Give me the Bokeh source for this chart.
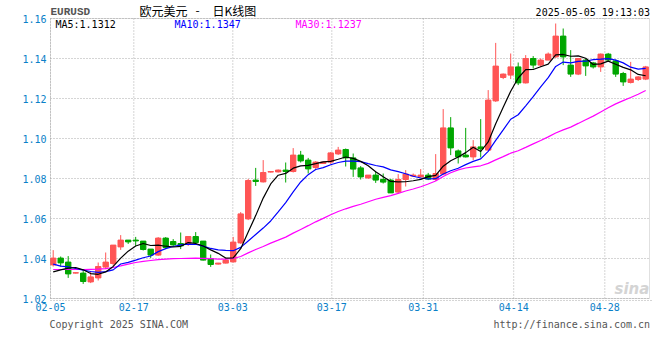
import pandas as pd
from bokeh.plotting import figure
from bokeh.models import (Range1d, FixedTicker, PrintfTickFormatter, Label, ColumnDataSource,
                          LinearAxis, BoxAnnotation)
from bokeh.embed import file_html
from bokeh.resources import INLINE

# ---------------- data ----------------
opens = [1.0368, 1.0402, 1.0382, 1.0327, 1.0327, 1.0283, 1.0303, 1.0357, 1.0375, 1.0458,
         1.0492, 1.0492, 1.0487, 1.0447, 1.0417, 1.0502, 1.0485, 1.0475, 1.0475, 1.0510,
         1.0487, 1.0400, 1.0372, 1.0377, 1.0383, 1.0478, 1.0598, 1.0792, 1.0783, 1.0832,
         1.0833, 1.0842, 1.0835, 1.0917, 1.0892, 1.0855, 1.0875, 1.0882, 1.0923, 1.0945,
         1.0903, 1.0853, 1.0803, 1.0817, 1.0795, 1.0792, 1.0732, 1.0795, 1.0812, 1.0808,
         1.0817, 1.0795, 1.0822, 1.1053, 1.0938, 1.0917, 1.0908, 1.0958, 1.0942, 1.1188,
         1.1305, 1.1317, 1.1358, 1.1278, 1.1400, 1.1367, 1.1392, 1.1408, 1.1512, 1.1367,
         1.1322, 1.1392, 1.1378, 1.1358, 1.1422, 1.1388, 1.1325, 1.1280, 1.1295, 1.1297]
highs = [1.0442, 1.0410, 1.0412, 1.0330, 1.0337, 1.0337, 1.0380, 1.0430, 1.0467, 1.0517,
         1.0492, 1.0508, 1.0487, 1.0447, 1.0507, 1.0507, 1.0497, 1.0530, 1.0510, 1.0532,
         1.0487, 1.0420, 1.0378, 1.0398, 1.0508, 1.0632, 1.0798, 1.0853, 1.0892, 1.0837,
         1.0845, 1.0880, 1.0952, 1.0938, 1.0903, 1.0887, 1.0885, 1.0932, 1.0958, 1.0950,
         1.0925, 1.0862, 1.0817, 1.0833, 1.0825, 1.0798, 1.0822, 1.0842, 1.0825, 1.0847,
         1.0828, 1.0922, 1.1147, 1.1107, 1.0945, 1.1053, 1.0992, 1.1097, 1.1242, 1.1478,
         1.1325, 1.1425, 1.1380, 1.1417, 1.1412, 1.1400, 1.1430, 1.1575, 1.1550, 1.1442,
         1.1400, 1.1400, 1.1383, 1.1425, 1.1428, 1.1395, 1.1333, 1.1383, 1.1312, 1.1363]
lows = [1.0360, 1.0360, 1.0303, 1.0325, 1.0273, 1.0277, 1.0290, 1.0347, 1.0363, 1.0443,
        1.0473, 1.0463, 1.0440, 1.0403, 1.0413, 1.0447, 1.0463, 1.0447, 1.0463, 1.0472,
        1.0390, 1.0358, 1.0370, 1.0375, 1.0380, 1.0473, 1.0592, 1.0763, 1.0780, 1.0830,
        1.0830, 1.0780, 1.0830, 1.0880, 1.0825, 1.0847, 1.0873, 1.0873, 1.0918, 1.0860,
        1.0808, 1.0795, 1.0798, 1.0778, 1.0775, 1.0728, 1.0725, 1.0760, 1.0808, 1.0805,
        1.0792, 1.0788, 1.0817, 1.0917, 1.0875, 1.0905, 1.0892, 1.0905, 1.0938, 1.1183,
        1.1297, 1.1297, 1.1267, 1.1275, 1.1350, 1.1358, 1.1392, 1.1403, 1.1367, 1.1308,
        1.1317, 1.1313, 1.1350, 1.1333, 1.1383, 1.1308, 1.1263, 1.1275, 1.1288, 1.1292]
closes = [1.0402, 1.0378, 1.0323, 1.0329, 1.0285, 1.0308, 1.0360, 1.0382, 1.0467, 1.0492,
          1.0483, 1.0488, 1.0445, 1.0417, 1.0502, 1.0455, 1.0468, 1.0463, 1.0510, 1.0480,
          1.0392, 1.0370, 1.0377, 1.0392, 1.0482, 1.0623, 1.0790, 1.0785, 1.0830, 1.0835,
          1.0842, 1.0835, 1.0917, 1.0888, 1.0848, 1.0882, 1.0882, 1.0928, 1.0942, 1.0903,
          1.0847, 1.0808, 1.0817, 1.0792, 1.0782, 1.0728, 1.0795, 1.0822, 1.0817, 1.0817,
          1.0797, 1.0825, 1.1053, 1.0953, 1.0908, 1.0908, 1.0958, 1.0948, 1.1192, 1.1362,
          1.1322, 1.1358, 1.1278, 1.1400, 1.1367, 1.1392, 1.1422, 1.1512, 1.1408, 1.1322,
          1.1400, 1.1363, 1.1358, 1.1422, 1.1392, 1.1322, 1.1283, 1.1297, 1.1308, 1.1358]

# moving-average values before enough bars exist in the window
ma5_head = [1.0333, 1.0343, 1.0352, 1.0355]
ma10_head = [1.0372, 1.0362, 1.0358, 1.0350, 1.0342, 1.0335, 1.0331, 1.0334, 1.0343]
ma30_head = [1.0345, 1.0345, 1.0345, 1.0345, 1.0345, 1.0346, 1.0347, 1.0349, 1.0355, 1.0363,
             1.0372, 1.0380, 1.0386, 1.0390, 1.0394, 1.0397, 1.0399, 1.0400, 1.0401, 1.0402,
             1.0401, 1.0399, 1.0397, 1.0397, 1.0400, 1.0410, 1.0428, 1.0445, 1.0460]

date_ticks = [-0.36, 10.75, 23.95, 37.15, 49.35, 61.4, 73.55]
date_labels = ["02-05", "02-17", "03-03", "03-17", "03-31", "04-14", "04-28"]
price_ticks = [1.02, 1.04, 1.06, 1.08, 1.10, 1.12, 1.14, 1.16]

title_parts = ["欧元美元", "-", "日K线图"]
symbol_text = "EURUSD"
time_text = "2025-05-05 19:13:03"
ma5_text = "MA5:1.1312"
ma10_text = "MA10:1.1347"
ma30_text = "MA30:1.1237"
copyright_text = "Copyright 2025 SINA.COM"
url_text = "http://finance.sina.com.cn"

# ---------------- derived ----------------
n = len(closes)
xs = list(range(n))
cs = pd.Series(closes)


def moving(w, head):
    r = cs.rolling(w).mean().tolist()
    return list(head) + r[len(head):]


ma5 = moving(5, ma5_head)
ma10 = moving(10, ma10_head)
ma30 = moving(30, ma30_head)

UP = "#ff5555"
DOWN = "#00a600"
colors = [UP if c >= o else DOWN for o, c in zip(opens, closes)]
src = ColumnDataSource(dict(
    x=xs, open=opens, close=closes, high=highs, low=lows,
    top=[max(o, c) for o, c in zip(opens, closes)],
    bottom=[min(o, c) for o, c in zip(opens, closes)],
    color=colors))

# ---------------- geometry: whole canvas is the frame ----------------
PX = 7.5          # px per bar
PY = 2000.0       # px per price unit
X0 = date_ticks[0]            # chart left edge (px 50)
X1 = X0 + 599 / PX            # chart right edge (px 649)
Y0, Y1 = price_ticks[0], price_ticks[-1]   # px 298 .. px 18

xr = Range1d(X0 - 50 / PX, X0 + 610 / PX)
yr = Range1d(Y0 - 62 / PY, Y1 + 18 / PY)

p = figure(width=660, height=360, x_range=xr, y_range=yr,
           x_axis_type=None, y_axis_type=None,
           output_backend="svg", toolbar_location=None,
           min_border_left=0, min_border_right=0, min_border_top=0, min_border_bottom=0,
           background_fill_color="white", border_fill_color="white")
p.outline_line_color = None
p.grid.visible = False


def sx(px):
    return X0 + (px - 50) / PX


def sy(py):
    return Y1 - (py - 18) / PY


# dotted grid inside the chart box
p.segment(x0=[X0] * len(price_ticks), x1=[X1] * len(price_ticks), y0=price_ticks, y1=price_ticks,
          line_color="#aaaaaa", line_dash="1 2", line_width=1)
p.segment(x0=date_ticks, x1=date_ticks, y0=[Y0] * len(date_ticks), y1=[Y1] * len(date_ticks),
          line_color="#aaaaaa", line_dash="1 2", line_width=1)

# candles
p.segment(x0="x", y0="low", x1="x", y1="high", line_color="color", line_width=1, source=src)
p.vbar(x="x", top="top", bottom="bottom", width=0.72, fill_color="color",
       line_color="color", line_width=1, source=src)

# moving averages
p.line(xs, ma30, line_color="#ff00ff", line_width=1.2)
p.line(xs, ma10, line_color="#0000ff", line_width=1.2)
p.line(xs, ma5, line_color="#000000", line_width=1.2)

# chart box
p.add_layout(BoxAnnotation(left=X0, right=X1, bottom=Y0, top=Y1, fill_color=None, fill_alpha=0,
                           line_color="#999999", line_width=1))

# axes fixed inside the canvas
xt = FixedTicker(ticks=date_ticks)
yt = FixedTicker(ticks=price_ticks)
xaxis = LinearAxis(ticker=xt, fixed_location=sy(300), bounds=(X0 - 0.05, sx(652)),
                   major_label_overrides=dict(zip(date_ticks, date_labels)))
yaxis = LinearAxis(ticker=yt, fixed_location=X0, formatter=PrintfTickFormatter(format="%.2f"))
for ax in (xaxis, yaxis):
    ax.major_tick_line_color = None
    ax.minor_tick_line_color = None
    ax.major_tick_out = 0
    ax.major_tick_in = 0
    ax.minor_tick_out = 0
    ax.minor_tick_in = 0
    ax.major_label_text_font = "DejaVu Sans Mono"
    ax.major_label_text_font_size = "10px"
    ax.major_label_text_color = "#0a80c8"
yaxis.axis_line_color = None
yaxis.major_label_standoff = 4
xaxis.axis_line_color = "#aaaaaa"
xaxis.axis_line_dash = "1 2"
xaxis.major_label_standoff = 2
p.add_layout(xaxis, "below")
p.add_layout(yaxis, "left")

MONO = "DejaVu Sans Mono"


def lab(px, py, text, color="#000000", font=MONO, size="10px", align="left", style="normal"):
    p.add_layout(Label(x=sx(px), y=sy(py), text=text, text_color=color, text_font=font,
                       text_font_size=size, text_align=align, text_baseline="middle",
                       text_font_style=style))


lab(50, 11.5, symbol_text, color="#555555", font="Liberation Mono", size="11px", style="bold")
lab(139, 9.5, title_parts[0], font="Noto Sans CJK SC", size="12px")
lab(195, 9.5, title_parts[1], font="Noto Sans CJK SC", size="12px")
lab(212, 9.5, title_parts[2], font="Noto Sans CJK SC", size="12px")
lab(649.5, 11.5, time_text, align="right")
lab(55, 23.5, ma5_text)
lab(174, 23.5, ma10_text, color="#0000ff")
lab(295, 23.5, ma30_text, color="#ff00ff")
lab(49, 324, copyright_text, color="#555555")
lab(649.5, 324, url_text, color="#555555", align="right")
lab(614, 288, "sina", color="#d4d4d4", font="DejaVu Sans", size="15px", style="bold italic")

open("out.html", "w").write(file_html(p, INLINE))
